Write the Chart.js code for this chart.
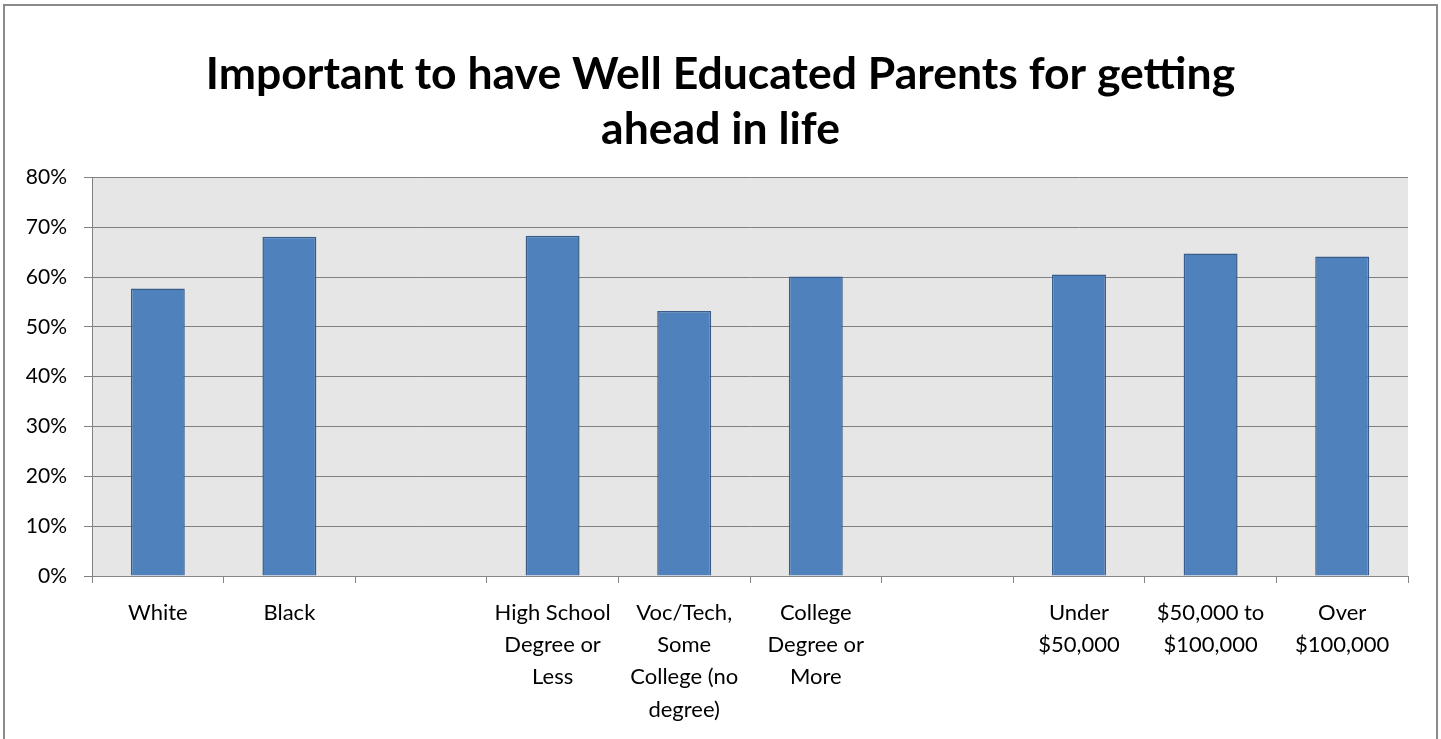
<!DOCTYPE html>
<html>
<head>
<meta charset="utf-8">
<script src="https://cdn.jsdelivr.net/npm/chart.js@4"></script>
<style>
  html, body { margin: 0; padding: 0; background: #fff; }
  #wrap { position: relative; width: 1441px; height: 739px; }
  #frame {
    position: absolute; left: 3px; top: 4px; width: 1431px; height: 760px;
    border: 2px solid #8a8a8a; pointer-events: none;
  }
</style>
</head>
<body>
<div id="wrap">
  <canvas id="chart"></canvas>
  <div id="frame"></div>
</div>
<script>
// categories (blank ones are the gaps between groups)
const categories = [
  'White',
  'Black',
  '',
  ['High School', 'Degree or', 'Less'],
  ['Voc/Tech,', 'Some', 'College (no', 'degree)'],
  ['College', 'Degree or', 'More'],
  '',
  ['Under', '$50,000'],
  ['$50,000 to', '$100,000'],
  ['Over', '$100,000']
];

// share saying it is important (%)
const importantPct = [57.7, 68.1, null, 68.3, 53.2, 60.1, null, 60.5, 64.7, 64.1];

const yTicks = [0, 10, 20, 30, 40, 50, 60, 70, 80];

const titleLines = ['Important to have Well Educated Parents for getting', 'ahead in life'];

// grey plot background
const plotBg = {
  id: 'plotBg',
  beforeDraw(chart) {
    const { ctx, chartArea: a } = chart;
    ctx.save();
    ctx.fillStyle = '#e6e6e6';
    ctx.fillRect(a.left, a.top, a.right - a.left, a.bottom - a.top);
    ctx.restore();
  }
};

const ctx = document.getElementById('chart').getContext('2d');
new Chart(ctx, {
  type: 'bar',
  data: {
    labels: categories,
    datasets: [{
      data: importantPct,
      backgroundColor: '#4f81bd',
      borderColor: '#385d8a',
      borderWidth: 1.5,
      categoryPercentage: 1,
      barPercentage: 0.41
    }]
  },
  options: {
    responsive: true,
    maintainAspectRatio: false,
    animation: false,
    layout: { padding: 0 },
    plugins: {
      legend: { display: false },
      tooltip: { enabled: false },
      title: {
        display: true,
        text: titleLines,
        color: '#000',
        font: { family: 'Lato', size: 44.5, weight: 'bold', lineHeight: 1.24 },
        padding: { top: 47, bottom: 20 }
      }
    },
    scales: {
      x: {
        offset: true,
        grid: {
          offset: true,
          drawOnChartArea: false,
          drawTicks: true,
          tickLength: 7,
          color: '#868686',
          lineWidth: 1
        },
        border: { color: '#868686', width: 1 },
        ticks: {
          color: '#000',
          maxRotation: 0,
          autoSkip: false,
          padding: 14,
          font: { family: 'Lato', size: 22, lineHeight: 1.46 }
        },
        afterFit(scale) { scale.height = 163; }
      },
      y: {
        min: 0,
        max: 80,
        afterBuildTicks(scale) { scale.ticks = yTicks.map(v => ({ value: v })); },
        grid: {
          color: '#808080',
          lineWidth: 1,
          tickLength: 8
        },
        border: { color: '#808080', width: 1 },
        ticks: {
          color: '#000',
          padding: 17,
          font: { family: 'Lato', size: 21 },
          callback: v => v + '%'
        },
        afterFit(scale) { scale.width = 92; }
      },
      // empty right-hand strip so the title stays centred on the whole frame
      yRight: {
        position: 'right',
        display: true,
        grid: { display: false },
        border: { display: false },
        ticks: { display: false },
        afterFit(scale) { scale.width = 33; }
      }
    }
  },
  plugins: [plotBg]
});
</script>
</body>
</html>
